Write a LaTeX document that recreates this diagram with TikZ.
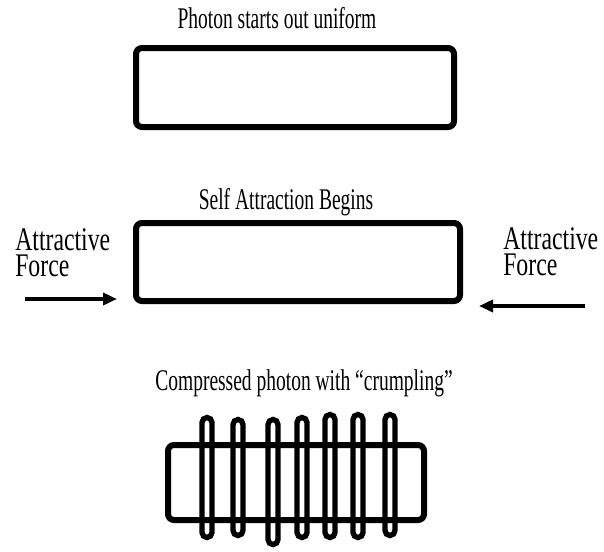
\documentclass[tikz,border=0pt]{standalone}
\usepackage{fontspec}
\setmainfont[FakeStretch=0.65]{Liberation Serif}
\newfontfamily\forcefont[FakeStretch=0.72]{Liberation Serif}
\usetikzlibrary{arrows.meta}

\begin{document}
\begin{tikzpicture}[x=0.75pt,y=-0.75pt,
	photon/.style={draw,line width=4.5pt,rounded corners=4.5pt},
	ring/.style={draw,line width=4pt,rounded corners=3.75pt},
	caption/.style={font=\fontsize{22.5}{24}\selectfont,anchor=base,inner sep=0pt},
	forcelabel/.style={font=\forcefont\fontsize{24.75}{19.5}\selectfont,align=left,anchor=north west,inner sep=0pt},
	pull/.style={line width=3pt,-{Triangle[length=10.5pt,width=9pt]}}]
				\useasboundingbox (0,0) rectangle (604,551);
				% uniform photon
				\node[caption] (capA) at (277,28) {Photon starts out uniform};
				\draw[photon] (136,48) rectangle (454,127);
				% self attraction
				\node[caption] (capB) at (286,209) {Self Attraction Begins};
				\draw[photon] (136,223) rectangle (460,301);
				\node[forcelabel] (forceL) at (15,228) {Attractive\\Force};
				\node[forcelabel] (forceR) at (503,227) {Attractive\\Force};
				\coordinate (pullLs) at (25,299);
				\coordinate (pullLe) at (117,299);
				\coordinate (pullRs) at (585,306);
				\coordinate (pullRe) at (479,306);
				\draw[pull] (pullLs) -- (pullLe);
				\draw[pull] (pullRs) -- (pullRe);
				% compressed photon
				\node[caption] (capC) at (304,390) {Compressed photon with “crumpling”};
				\draw[photon] (168,445) rectangle (424,520);
				\foreach \x/\t/\b in {207/415/540,238/417/538,273/417/547,302/415/540,330/412/540,358/412/540,390/412/538}
					\draw[ring] (\x-5,\t+2.5) rectangle (\x+5,\b-2.5);
\end{tikzpicture}
\end{document}
